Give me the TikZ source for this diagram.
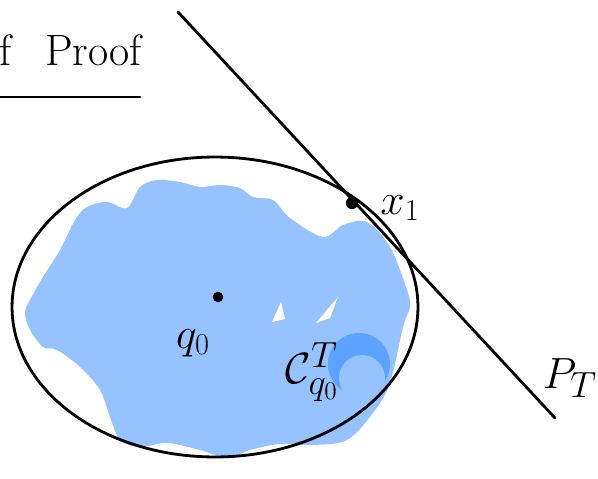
\documentclass[tikz,border=0pt]{standalone}
\usepackage{amsmath}
\usetikzlibrary{shapes.geometric}
\begin{document}
\begin{tikzpicture}[
  x=0.02cm, y=-0.02cm,
  ink/.style={draw=black, line width=1.6pt, line cap=round, line join=round},
  lbl/.style={font=\fontsize{24}{24}\selectfont, inner sep=0pt},
  dot/.style={circle, fill=black, inner sep=0pt, minimum size=7pt},
]
  \useasboundingbox (0,0) rectangle (598,479);
  \definecolor{lightblue}{HTML}{96C3FF}
  \definecolor{deepblue}{HTML}{5CA2FF}

  % heading
  \node[font=\fontsize{25}{25}\selectfont, anchor=west, inner sep=0pt] (title) at (45,50) {Proof};
  \node[font=\fontsize{25}{25}\selectfont, anchor=base east, inner sep=0pt] (titleof) at ([xshift=-0.66cm]title.base west) {of};
  \coordinate (ulA) at (-5,97);
  \coordinate (ulB) at (140,97);
  \draw[ink] (ulA) -- (ulB);

  % reachable set (blue blob)
  \fill[lightblue] plot[smooth cycle, tension=0.55] coordinates {
    (87,207) (107,202) (127,208) (140,187) (157,180) (180,182) (200,187)
    (220,185) (240,188) (253,197) (273,200) (290,218) (323,237) (343,225)
    (367,222) (390,247) (407,290) (410,307) (403,327) (390,383) (373,413)
    (347,440) (313,445) (280,444) (250,450) (227,458) (200,450) (167,443)
    (140,447) (120,440) (110,417) (100,390) (80,367) (57,350) (43,347)
    (30,330) (25,313) (30,300) (43,277) (60,250) (75,220)};
  \fill[white] (272,322) -- (281,302) -- (285,319) -- cycle;
  \fill[white] (316,323) -- (338,297) -- (330,318) -- cycle;

  % small cone circle
  \fill[deepblue] (359,364) circle [radius=31];
  \fill[lightblue] (362,378) circle [radius=23];

  % outer ellipse
  \node[ink, ellipse, minimum width=8.12cm, minimum height=6cm] (outer) at (215,307) {};

  % supporting hyperplane
  \coordinate (lineStart) at (178,12);
  \coordinate (lineEnd) at (555,418);
  \draw[ink] (lineStart) -- (lineEnd);

  % points and labels
  \node[dot] (xone) at (352,203) {};
  \node[lbl] (xonelbl) at (400,208) {$x_1$};
  \node[dot, minimum size=6pt] (qzero) at (218,297) {};
  \node[lbl] (qzerolbl) at (193,343) {$q_0$};
  \node[lbl, font=\fontsize{28}{28}\selectfont] (conelbl) at (312,372) {$\mathcal{C}^T_{q_0}$};
  \node[lbl, font=\fontsize{28}{28}\selectfont] (planelbl) at (570,378) {$P_T$};
\end{tikzpicture}
\end{document}
